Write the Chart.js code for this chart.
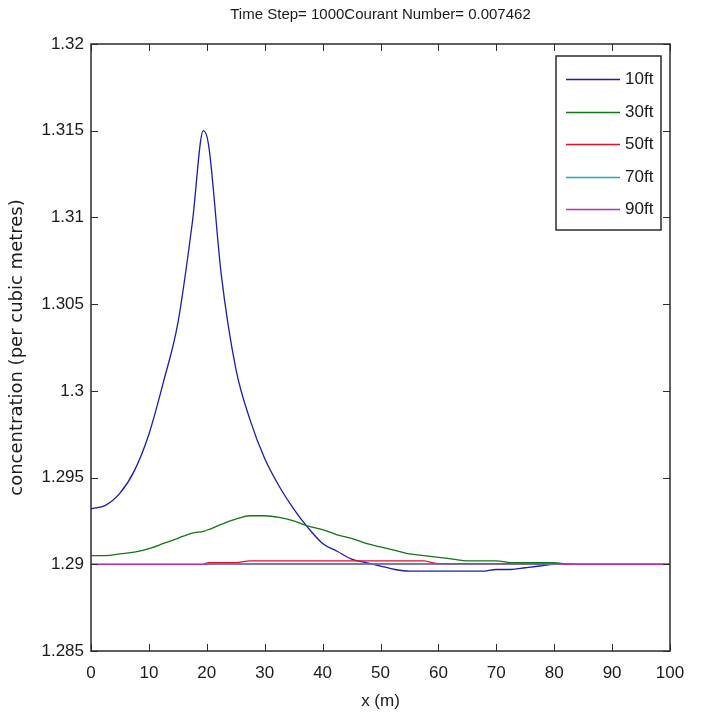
<!DOCTYPE html>
<html>
<head>
<meta charset="utf-8">
<style>
  html, body { margin: 0; padding: 0; background: #fff; }
  #wrap { width: 703px; height: 721px; }
</style>
<script src="https://cdn.jsdelivr.net/npm/chart.js@4.4.1/dist/chart.umd.min.js"></script>
</head>
<body>
<div id="wrap"><canvas id="concChart" width="703" height="721"></canvas></div>
<script>
const xPositions = [0, 2.5, 5, 7.5, 10, 12.5, 15, 17.5, 19.4, 20.3, 22.5, 25, 27.5, 30, 32.5, 35, 37.5, 40, 42.5, 45,
  47.5, 50, 52.5, 55, 57.5, 60, 62.5, 65, 67.5, 70, 72.5, 75, 77.5, 80, 82.5, 85, 87.5, 90, 92.5, 95, 97.5, 100];

const conc10ft = [1.2932, 1.2934, 1.2941, 1.2954, 1.2975, 1.3005, 1.3039, 1.3097, 1.3150, 1.3142, 1.3067, 1.3013,
  1.2983, 1.2961, 1.2945, 1.2932, 1.2921, 1.2912, 1.29075, 1.2903, 1.2901, 1.2899, 1.2897, 1.2896, 1.2896, 1.2896,
  1.2896, 1.2896, 1.2896, 1.2897, 1.2897, 1.2898, 1.2899, 1.2900, 1.2900, 1.2900, 1.2900, 1.2900, 1.2900, 1.2900,
  1.2900, 1.2900];
const conc30ft = [1.2905, 1.2905, 1.2906, 1.2907, 1.2909, 1.2912, 1.2915, 1.2918, 1.2919, 1.2920, 1.2923, 1.2926,
  1.2928, 1.2928, 1.2927, 1.2925, 1.2922, 1.2920, 1.2917, 1.2915, 1.2912, 1.2910, 1.2908, 1.2906, 1.2905, 1.2904,
  1.2903, 1.2902, 1.2902, 1.2902, 1.2901, 1.2901, 1.2901, 1.2901, 1.2900, 1.2900, 1.2900, 1.2900, 1.2900, 1.2900,
  1.2900, 1.2900];
const conc50ft = [1.2900, 1.2900, 1.2900, 1.2900, 1.2900, 1.2900, 1.2900, 1.2900, 1.2900, 1.2901, 1.2901, 1.2901,
  1.2902, 1.2902, 1.2902, 1.2902, 1.2902, 1.2902, 1.2902, 1.2902, 1.2902, 1.2902, 1.2902, 1.2902, 1.2902, 1.29003,
  1.29003, 1.29003, 1.29003, 1.29003, 1.29003, 1.29003, 1.29003, 1.29003, 1.29002, 1.2900, 1.2900, 1.2900, 1.2900,
  1.2900, 1.2900, 1.2900];
const conc70ft = [1.2900, 1.2900, 1.2900, 1.2900, 1.2900, 1.2900, 1.2900, 1.2900, 1.2900, 1.2900, 1.29001, 1.29001,
  1.29001, 1.29001, 1.29001, 1.29001, 1.29001, 1.29001, 1.29001, 1.29001, 1.29001, 1.29001, 1.29001, 1.29001,
  1.29001, 1.29001, 1.29001, 1.29001, 1.29001, 1.29001, 1.29001, 1.29001, 1.2900, 1.2900, 1.2900, 1.2900, 1.2900,
  1.2900, 1.2900, 1.2900, 1.2900, 1.2900];
const conc90ft = [1.2900, 1.2900, 1.2900, 1.2900, 1.2900, 1.2900, 1.2900, 1.2900, 1.2900, 1.29002, 1.29002, 1.29002,
  1.29002, 1.29002, 1.29002, 1.29002, 1.29002, 1.29002, 1.29002, 1.29002, 1.29002, 1.29002, 1.29002, 1.29002,
  1.29002, 1.29002, 1.29002, 1.29002, 1.29002, 1.29002, 1.29002, 1.29002, 1.29002, 1.29002, 1.2900, 1.2900, 1.2900,
  1.2900, 1.2900, 1.2900, 1.2900, 1.2900];

const seriesLabels = ["10ft", "30ft", "50ft", "70ft", "90ft"];
const seriesValues = [conc10ft, conc30ft, conc50ft, conc70ft, conc90ft];
const seriesColors = ["#1c1ca8", "#137513", "#e0102e", "#10b4b4", "#b532b5"];

const xTickValues = [0, 10, 20, 30, 40, 50, 60, 70, 80, 90, 100];
const yTickValues = [1.285, 1.29, 1.295, 1.3, 1.305, 1.31, 1.315, 1.32];

const narrowFont = "'Liberation Sans', Arial, sans-serif";
const frameColor = "#2b2b2b";

// matlab style box with ticks pointing inwards on all four sides
const tickFramePlugin = {
  id: "tickFrame",
  afterDatasetsDraw(chart) {
    const { ctx, chartArea: a, scales } = chart;
    const len = 7;
    ctx.save();
    ctx.strokeStyle = frameColor;
    ctx.lineWidth = 1;
    ctx.beginPath();
    scales.x.ticks.forEach(t => {
      const px = Math.round(scales.x.getPixelForValue(t.value)) + 0.5;
      ctx.moveTo(px, a.bottom); ctx.lineTo(px, a.bottom - len);
      ctx.moveTo(px, a.top); ctx.lineTo(px, a.top + len);
    });
    scales.y.ticks.forEach(t => {
      const py = Math.round(scales.y.getPixelForValue(t.value)) + 0.5;
      ctx.moveTo(a.left, py); ctx.lineTo(a.left + len, py);
      ctx.moveTo(a.right, py); ctx.lineTo(a.right - len, py);
    });
    ctx.stroke();
    ctx.lineWidth = 1.5;
    ctx.strokeRect(a.left, a.top, a.right - a.left, a.bottom - a.top);
    ctx.restore();
  }
};

// boxed legend in the top right corner of the axes
const boxLegendPlugin = {
  id: "boxLegend",
  afterDraw(chart) {
    const { ctx, chartArea: a } = chart;
    const w = 105, h = 174;
    const left = a.right - 9 - w, top = a.top + 12;
    ctx.save();
    ctx.fillStyle = "#fff";
    ctx.fillRect(left, top, w, h);
    ctx.strokeStyle = frameColor;
    ctx.lineWidth = 1.5;
    ctx.strokeRect(left, top, w, h);
    ctx.font = "17px " + narrowFont;
    ctx.textBaseline = "middle";
    ctx.fillStyle = "#1a1a1a";
    chart.data.datasets.forEach((ds, i) => {
      const y = Math.round(top + 23 + i * 32.5) + 0.5;
      ctx.strokeStyle = ds.borderColor;
      ctx.lineWidth = 1.3;
      ctx.beginPath();
      ctx.moveTo(left + 10, y);
      ctx.lineTo(left + 64, y);
      ctx.stroke();
      ctx.fillText(ds.label, left + 69, y);
    });
    ctx.restore();
  }
};

const datasets = seriesLabels.map((label, i) => ({
  label: label,
  data: xPositions.map((x, j) => ({ x: x, y: seriesValues[i][j] })),
  borderColor: seriesColors[i],
  borderWidth: 1.3,
  pointRadius: 0,
  cubicInterpolationMode: "monotone",
  fill: false,
  order: seriesLabels.length - i // later series on top, like matlab
}));

new Chart(document.getElementById("concChart"), {
  type: "line",
  data: { datasets: datasets },
  options: {
    responsive: false,
    animation: false,
    devicePixelRatio: 1,
    layout: { padding: { left: 0, right: 33, top: 0, bottom: 0 } },
    plugins: {
      legend: { display: false },
      tooltip: { enabled: false },
      title: {
        display: true,
        fullSize: false,
        text: "Time Step= 1000Courant Number= 0.007462",
        color: "#1a1a1a",
        font: { family: narrowFont, size: 15, weight: "normal" },
        padding: { top: 6, bottom: 20 }
      }
    },
    scales: {
      x: {
        type: "linear",
        min: 0,
        max: 100,
        afterBuildTicks: s => { s.ticks = xTickValues.map(v => ({ value: v })); },
        afterFit: s => { s.height = 70; },
        grid: { display: false, drawTicks: false },
        border: { display: false },
        ticks: {
          color: "#1a1a1a",
          font: { family: narrowFont, size: 17 },
          padding: 12,
          maxRotation: 0,
          autoSkip: false
        },
        title: {
          display: true,
          text: "x (m)",
          color: "#1a1a1a",
          font: { family: narrowFont, size: 17 },
          padding: { top: 0, bottom: 9 }
        }
      },
      y: {
        min: 1.285,
        max: 1.32,
        afterBuildTicks: s => { s.ticks = yTickValues.map(v => ({ value: v })); },
        afterFit: s => { s.width = 91; },
        grid: { display: false, drawTicks: false },
        border: { display: false },
        ticks: {
          color: "#1a1a1a",
          font: { family: narrowFont, size: 17 },
          padding: 7,
          callback: v => String(Number(v.toFixed(3)))
        },
        title: {
          display: true,
          text: "concentration (per cubic metres)",
          color: "#1a1a1a",
          font: { family: "'DejaVu Sans', sans-serif", size: 18 },
          padding: { top: 7, bottom: 0 }
        }
      }
    }
  },
  plugins: [tickFramePlugin, boxLegendPlugin]
});
</script>
</body>
</html>
